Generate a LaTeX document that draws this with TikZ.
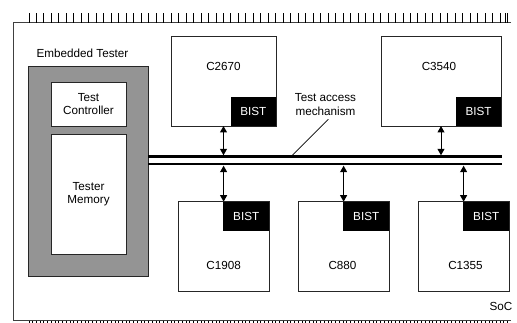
\documentclass[tikz,border=0pt]{standalone}
\usepackage{fontspec}
\setmainfont{Liberation Sans}
\usetikzlibrary{arrows.meta}
\begin{document}
\begin{tikzpicture}[x=1pt,y=-1pt,
  every node/.style={font=\fontsize{11.7}{13.5}\selectfont},
  box/.style={draw=black!85, line width=0.8pt, fill=white, inner sep=0pt, outer sep=0pt},
  graybox/.style={box, fill=black!42},
  bist/.style={fill=black, text=white, inner sep=0pt, outer sep=0pt, minimum width=45.5pt, minimum height=29.3pt},
  lbl/.style={inner sep=0pt, align=center},
  bus/.style={line width=2.4pt},
  arr/.style={line width=1pt, {Triangle[length=6.5pt,width=7pt]}-{Triangle[length=6.5pt,width=7pt]}},
  tick/.style={line width=1pt, draw=black},
  frame/.style={line width=0.9pt, draw=black!75}]
\useasboundingbox (0,0) rectangle (517,323);
% frame
\coordinate (ftl) at (13.5,22.7);
\coordinate (ftr) at (511,22.7);
\coordinate (fbl) at (13.5,320.7);
\coordinate (fbr) at (511,320.7);
\draw[frame] (ftr) -- (ftl) -- (fbl) -- (fbr);
\foreach \k in {0,...,64} {
  \draw[tick] (29+7.48*\k,13.3) -- (29+7.48*\k,22.7);
}
\draw[tick] (505,13.3) -- (505,22.7);
\foreach \k in {0,...,128} {
  \draw[tick] (29+3.74*\k,320.7) -- (29+3.74*\k,323.5);
}
% embedded tester
\node[lbl] (etl) at (82.5,53) {Embedded Tester};
\node[graybox, minimum width=120pt, minimum height=210pt] (et) at (88.3,171.7) {};
\node[box, minimum width=75pt, minimum height=44pt, align=center] (tc) at (88.5,104) {Test\\Controller};
\node[box, minimum width=75pt, minimum height=120pt, align=center] (tm) at (88.5,194) {Tester\\Memory};
% bus
\coordinate (busAL) at (148.3,156.7);
\coordinate (busAR) at (502,156.7);
\coordinate (busBL) at (148.3,164.3);
\coordinate (busBR) at (502,164.3);
\draw[bus] (busAL) -- (busAR);
\draw[bus] (busBL) -- (busBR);
\coordinate (busTop) at (0,155.3);
\coordinate (busBot) at (0,165.7);
% top cores
\node[box, minimum width=105pt, minimum height=90pt] (c2670) at (223.5,81) {};
\node[lbl] (t2670) at (223.5,66.7) {C2670};
\node[bist] (b2670) at (253.3,111.3) {BIST};
\node[box, minimum width=120pt, minimum height=90pt] (c3540) at (441,81) {};
\node[lbl] (t3540) at (439,66.7) {C3540};
\node[bist] (b3540) at (478.5,111.3) {BIST};
% bottom cores
\node[box, minimum width=90.7pt, minimum height=89.3pt] (c1908) at (223.6,246.3) {};
\node[bist] (b1908) at (246.2,216.3) {BIST};
\node[lbl] (t1908) at (223.6,265) {C1908};
\node[box, minimum width=90.7pt, minimum height=89.3pt] (c880) at (343.6,246.3) {};
\node[bist] (b880) at (366.2,216.3) {BIST};
\node[lbl] (t880) at (342.5,265) {C880};
\node[box, minimum width=90.7pt, minimum height=89.3pt] (c1355) at (463.6,246.3) {};
\node[bist] (b1355) at (486.2,216.3) {BIST};
\node[lbl] (t1355) at (465.5,265) {C1355};
% arrows
\draw[arr] (c2670.south) -- (c2670.south |- busTop);
\draw[arr] (c3540.south) -- (c3540.south |- busTop);
\draw[arr] (c1908.north) -- (c1908.north |- busBot);
\draw[arr] (c880.north) -- (c880.north |- busBot);
\draw[arr] (c1355.north) -- (c1355.north |- busBot);
% TAM label
\node[lbl] (tam) at (325.5,104.5) {Test access\\mechanism};
\coordinate (leadA) at (328.3,119.3);
\coordinate (leadB) at (291.7,156);
\draw[line width=0.7pt] (leadA) -- (leadB);
% SoC
\node[lbl] (soc) at (501,306.7) {SoC};
\end{tikzpicture}
\end{document}
